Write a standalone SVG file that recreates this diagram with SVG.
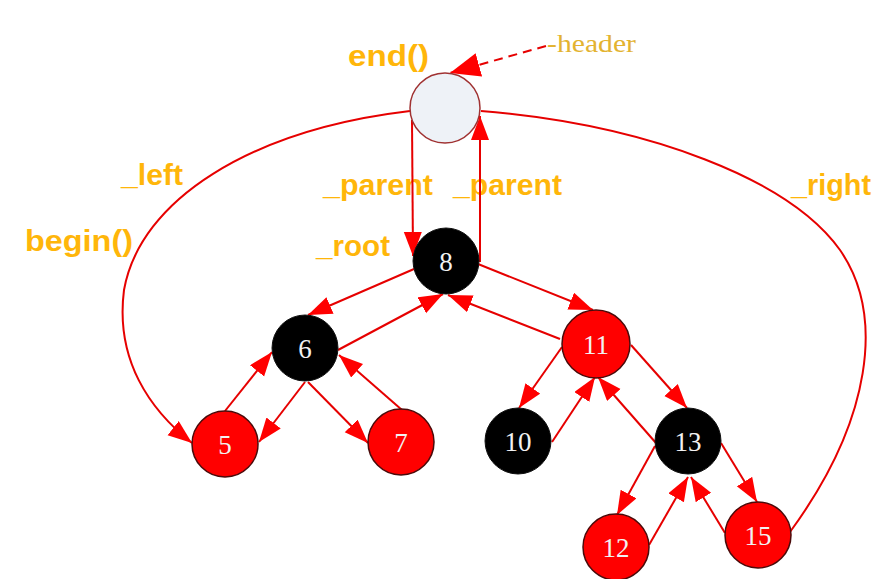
<svg xmlns="http://www.w3.org/2000/svg" width="875" height="579" viewBox="0 0 875 579">
<style>
.lbl{font-family:"Liberation Sans","Noto Sans",Arial,sans-serif;font-weight:bold;font-size:30px;fill:#ffb60a}
.hdr{font-family:"Liberation Serif","DejaVu Serif",serif;font-size:25px;fill:#e3b330}
.num{font-family:"Liberation Serif","DejaVu Serif",serif;font-size:27px;fill:#f2f2f2;text-anchor:middle;dominant-baseline:central}
.blk{fill:#000;stroke:#111;stroke-width:1}
.red{fill:#ff0000;stroke:#4a0a0a;stroke-width:1.5}
.edge{stroke:#e60000;stroke-width:2;fill:none;marker-end:url(#ah)}
.curve{stroke:#e60000;stroke-width:2;fill:none}
</style>
<defs>
<marker id="ah" markerUnits="userSpaceOnUse" markerWidth="26" markerHeight="20" refX="24" refY="9" orient="auto">
<path d="M0,0 L24,9 L0,18 z" fill="#ff0000"/>
</marker>
<marker id="ahBig" markerUnits="userSpaceOnUse" markerWidth="32" markerHeight="26" refX="30" refY="12" orient="auto">
<path d="M0,0 L30,12 L0,24 z" fill="#ff0000"/>
</marker>
</defs>
<rect width="875" height="579" fill="#ffffff"/>
<g id="labels">
<text class="lbl" x="348" y="66" textLength="81" lengthAdjust="spacingAndGlyphs">end()</text>
<text class="hdr" x="547" y="52" textLength="89" lengthAdjust="spacingAndGlyphs">-header</text>
<text class="lbl" x="121" y="185" textLength="62" lengthAdjust="spacingAndGlyphs">_left</text>
<text class="lbl" x="25" y="251" textLength="108" lengthAdjust="spacingAndGlyphs">begin()</text>
<text class="lbl" x="323" y="195" textLength="110" lengthAdjust="spacingAndGlyphs">_parent</text>
<text class="lbl" x="453" y="195" textLength="109" lengthAdjust="spacingAndGlyphs">_parent</text>
<text class="lbl" x="316" y="256" textLength="74" lengthAdjust="spacingAndGlyphs">_root</text>
<text class="lbl" x="791" y="195" textLength="80" lengthAdjust="spacingAndGlyphs">_right</text>
</g>
<g id="connectors">
<path class="curve" d="M546,46 L450,73" stroke-dasharray="9,6" marker-end="url(#ahBig)"/>
<path class="curve" d="M410,111 C250,130 140,200 124,290 C115,360 150,410 192,443" marker-end="url(#ah)"/>
<path class="curve" d="M481,111 C650,125 790,180 840,250 C885,315 872,420 790,532"/>
<line class="edge" x1="412" y1="120" x2="413" y2="256"/>
<line class="edge" x1="480" y1="262" x2="480" y2="116"/>
<line class="edge" x1="414" y1="269" x2="308" y2="315"/>
<line class="edge" x1="338" y1="350" x2="443" y2="294"/>
<line class="edge" x1="478" y1="264" x2="593" y2="310"/>
<line class="edge" x1="560" y1="339" x2="448" y2="295"/>
<line class="edge" x1="305" y1="382" x2="259" y2="442"/>
<line class="edge" x1="225" y1="411" x2="272" y2="352"/>
<line class="edge" x1="308" y1="382" x2="368" y2="443"/>
<line class="edge" x1="402" y1="410" x2="339" y2="355"/>
<line class="edge" x1="562" y1="347" x2="519" y2="408"/>
<line class="edge" x1="552" y1="442" x2="595" y2="377"/>
<line class="edge" x1="631" y1="345" x2="687" y2="408"/>
<line class="edge" x1="656" y1="443" x2="598" y2="377"/>
<line class="edge" x1="655" y1="446" x2="617" y2="515"/>
<line class="edge" x1="649" y1="545" x2="688" y2="477"/>
<line class="edge" x1="721" y1="443" x2="757" y2="502"/>
<line class="edge" x1="725" y1="533" x2="691" y2="477"/>
</g>
<g id="node-header"><circle cx="445" cy="108" r="35" fill="#eef2f7" stroke="#a03232" stroke-width="1.5"/></g>
<g id="node-8"><circle class="blk" cx="446" cy="261" r="33"/><text class="num" x="446" y="262">8</text></g>
<g id="node-6"><circle class="blk" cx="305" cy="348" r="33"/><text class="num" x="305" y="349">6</text></g>
<g id="node-5"><circle class="red" cx="225" cy="444" r="33"/><text class="num" x="225" y="445">5</text></g>
<g id="node-7"><circle class="red" cx="401" cy="442" r="33"/><text class="num" x="401" y="443">7</text></g>
<g id="node-11"><circle class="red" cx="596" cy="344" r="34"/><text class="num" x="596" y="345">11</text></g>
<g id="node-10"><circle class="blk" cx="518" cy="441" r="33"/><text class="num" x="518" y="442">10</text></g>
<g id="node-13"><circle class="blk" cx="688" cy="441" r="33"/><text class="num" x="688" y="442">13</text></g>
<g id="node-12"><circle class="red" cx="616" cy="547" r="33"/><text class="num" x="616" y="548">12</text></g>
<g id="node-15"><circle class="red" cx="758" cy="535" r="33"/><text class="num" x="758" y="536">15</text></g>
</svg>
